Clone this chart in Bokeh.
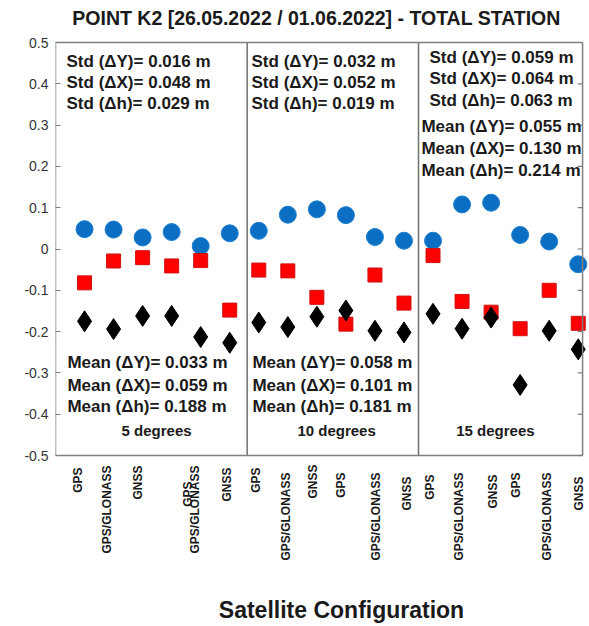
import math
from bokeh.plotting import figure
from bokeh.models import (FixedTicker, Label, Range1d, BoxAnnotation,
                          ColumnDataSource)
from bokeh.core.properties import value
from bokeh.embed import file_html
from bokeh.resources import INLINE

# ---------------- data ----------------
config_index = list(range(1, 19))
dY = [0.048, 0.047, 0.028, 0.041, 0.007, 0.038,
      0.044, 0.083, 0.096, 0.082, 0.029, 0.020,
      0.020, 0.108, 0.112, 0.034, 0.018, -0.037]
dX = [-0.082, -0.029, -0.021, -0.041, -0.028, -0.148,
      -0.051, -0.053, -0.117, -0.182, -0.063, -0.131,
      -0.016, -0.127, -0.153, -0.193, -0.100, -0.180]
dh = [-0.175, -0.194, -0.162, -0.162, -0.213, -0.227,
      -0.178, -0.189, -0.164, -0.149, -0.198, -0.202,
      -0.157, -0.193, -0.166, -0.329, -0.198, -0.243]

x_tick_labels = ["GPS", "GPS/GLONASS", "GNSS", "GPS", "GPS/GLONASS", "GNSS",
                 "GPS", "GPS/GLONASS", "GNSS", "GPS", "GPS/GLONASS", "GNSS",
                 "GPS", "GPS/GLONASS", "GNSS", "GPS", "GPS/GLONASS", "GNSS"]
y_ticks = [-0.5, -0.4, -0.3, -0.2, -0.1, 0, 0.1, 0.2, 0.3, 0.4, 0.5]
y_tick_labels = ["-0.5", "-0.4", "-0.3", "-0.2", "-0.1", "0",
                 "0.1", "0.2", "0.3", "0.4", "0.5"]

panel_names = ["5 degrees", "10 degrees", "15 degrees"]
std_dY = [0.016, 0.032, 0.059]
std_dX = [0.048, 0.052, 0.064]
std_dh = [0.029, 0.019, 0.063]
mean_dY = [0.033, 0.058, 0.055]
mean_dX = [0.059, 0.101, 0.130]
mean_dh = [0.188, 0.181, 0.214]

title_text = "POINT K2 [26.05.2022 / 01.06.2022] - TOTAL STATION"
x_axis_title = "Satellite Configuration"

# ---------------- layout ----------------
# The frame spans the whole canvas right of the y-axis so that the title,
# the rotated category labels and the x-axis title can be drawn as text.
PX_PER_X = 29.04            # pixels per x unit
PX_PER_Y = 413.0            # pixels per y unit
LEFT = 55
X0, X1 = 0.0, 18.15         # visible box (data units)
X_END = X0 + (589 - LEFT) / PX_PER_X
Y_TOP = 0.5 + 42 / PX_PER_Y
Y_BOT = -0.5 - (626 - 455) / PX_PER_Y

def ypx(py):                # canvas pixel row -> data y
    return 0.5 - (py - 42) / PX_PER_Y

x_label_pos = [0.775, 1.78, 2.85, 4.57, 4.80, 5.92,
               6.91, 7.94, 8.88, 9.84, 11.02, 12.09,
               12.91, 13.91, 15.05, 15.87, 16.94, 18.01]
x_label_top_px = [467, 465, 465, 481, 465, 467,
                  467, 472, 464, 472, 472, 476,
                  474, 472, 474, 472, 472, 476]
dividers = [6.6, 12.5]
GRAY = "#808080"
FONT = "Liberation Sans"
TXT = "#1a1a1a"

p = figure(width=589, height=626, output_backend="svg", toolbar_location=None,
           x_range=Range1d(X0, X_END), y_range=Range1d(Y_BOT, Y_TOP),
           min_border_left=LEFT, min_border_right=0, min_border_top=0,
           min_border_bottom=0)

p.background_fill_color = "white"
p.border_fill_color = "white"
p.outline_line_color = None
p.xgrid.visible = False
p.ygrid.visible = False
p.xaxis.visible = False

# y axis (left)
yax = p.yaxis[0]
yax.ticker = FixedTicker(ticks=y_ticks)
yax.major_label_overrides = {t: l for t, l in zip(y_ticks, y_tick_labels)}
yax.major_tick_in = 5
yax.major_tick_out = 0
yax.minor_tick_in = 0
yax.minor_tick_out = 0
yax.axis_line_color = None
yax.major_tick_line_color = GRAY
yax.major_tick_line_width = 1.2
yax.major_label_text_font = FONT
yax.major_label_text_font_size = "14px"
yax.major_label_text_color = "#333333"
yax.major_label_standoff = 7

# box frame
p.add_layout(BoxAnnotation(left=X0, right=X1, bottom=-0.5, top=0.5,
                           fill_color=None, fill_alpha=0,
                           line_color=GRAY, line_alpha=1.0, line_width=1.5))
# right-side inward ticks
tick_len = 5 / PX_PER_X
p.segment(x0=[X1 - tick_len] * len(y_ticks), y0=y_ticks,
          x1=[X1] * len(y_ticks), y1=y_ticks, line_color=GRAY, line_width=1.2)

# dividers between elevation-mask panels
p.segment(x0=dividers, y0=[-0.5] * len(dividers), x1=dividers,
          y1=[0.5] * len(dividers), line_color="#707070", line_width=1.5)

# markers
src = ColumnDataSource(dict(x=config_index, dY=dY, dX=dX, dh=dh))
p.scatter("x", "dY", source=src, marker="circle", size=17,
          fill_color="#0A6FC2", line_color="#1F7FD0", line_width=1)
p.scatter("x", "dX", source=src, marker="square", size=14,
          fill_color="#FF0000", line_color="#D01010", line_width=1)
p.scatter("x", "dh", source=src, marker="diamond", size=21,
          fill_color="black", line_color="black")

# rotated category labels under the box
lab_src = ColumnDataSource(dict(x=x_label_pos,
                                y=[ypx(t) for t in x_label_top_px],
                                text=x_tick_labels))
p.text("x", "y", text="text", source=lab_src, angle=math.pi / 2,
       text_align="right", text_baseline="middle",
       text_font=value(FONT), text_font_size="12px", text_font_style="bold",
       text_color=TXT)

# text annotations
def lab(x, y, text, size="17px", align="left"):
    p.add_layout(Label(x=x, y=y, text=text, text_font=FONT, text_font_size=size,
                       text_font_style="bold", text_color=TXT,
                       text_baseline="middle", text_align=align))

std_x = [0.38, 6.75, 12.88]
std_y = [[0.454, 0.403, 0.353], [0.454, 0.403, 0.353], [0.464, 0.413, 0.360]]
mean_x = [0.41, 6.78, 12.60]
mean_y = [[-0.276, -0.330, -0.381], [-0.276, -0.330, -0.381], [0.297, 0.243, 0.190]]
panel_cx = [3.48, 9.68, 15.15]

for i in range(3):
    lab(std_x[i], std_y[i][0], "Std (\u0394Y)= %.3f m" % std_dY[i])
    lab(std_x[i], std_y[i][1], "Std (\u0394X)= %.3f m" % std_dX[i])
    lab(std_x[i], std_y[i][2], "Std (\u0394h)= %.3f m" % std_dh[i])
    lab(mean_x[i], mean_y[i][0], "Mean (\u0394Y)= %.3f m" % mean_dY[i])
    lab(mean_x[i], mean_y[i][1], "Mean (\u0394X)= %.3f m" % mean_dX[i])
    lab(mean_x[i], mean_y[i][2], "Mean (\u0394h)= %.3f m" % mean_dh[i])
    lab(panel_cx[i], -0.44, panel_names[i], size="15px", align="center")

# chart title and x-axis title
lab((316 - LEFT) / PX_PER_X, ypx(17), title_text, size="19.5px", align="center")
lab((341 - LEFT) / PX_PER_X, ypx(609), x_axis_title, size="23px", align="center")

open("out.html", "w").write(file_html(p, INLINE))
